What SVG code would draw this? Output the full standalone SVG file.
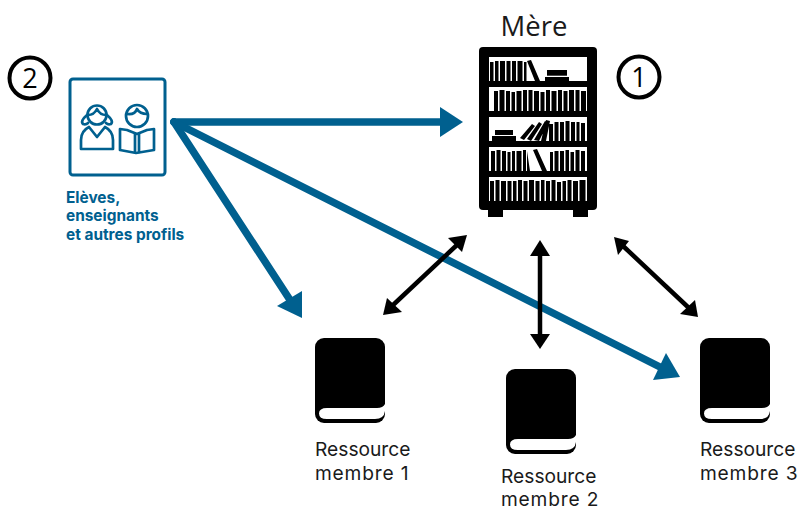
<svg xmlns="http://www.w3.org/2000/svg" width="801" height="511" viewBox="0 0 801 511">
<style>
.t{font-family:"Inter","Liberation Sans",sans-serif;font-size:19.2px;fill:#1a1a1a}
.m{letter-spacing:.8px}
.p{font-family:"Inter","Liberation Sans",sans-serif;font-weight:700;font-size:15.400px;fill:#00608f}
.num{font-family:"Open Sans","Liberation Sans",sans-serif;font-size:27px;fill:#000;text-anchor:middle}
.ring{fill:#fff;stroke:#000;stroke-width:4}
.ic{fill:none;stroke:#00608f;stroke-width:2.700;stroke-linejoin:round;stroke-linecap:round}
.bl{stroke:#00608f;stroke-width:7.500;fill:none;stroke-linecap:round}
.bk{stroke:#000;stroke-width:4.500;fill:none}
</style>
<defs>
<g id="book">
<rect width="70" height="85" rx="9" fill="#000"/>
<path d="M12 70H62Q68 70 70 66V73Q69 81 60 81H12Q4 81 4 75.500Q4 70 12 70Z" fill="#fff"/>
</g>
</defs>
<g id="connectors">
<line class="bl" x1="174" y1="122" x2="445" y2="122"/>
<path d="M463 122L440 107V137Z" fill="#00608f"/>
<line class="bl" x1="174" y1="122" x2="292" y2="303"/>
<path d="M302 318L277 306L302 291Z" fill="#00608f"/>
<line class="bl" x1="174" y1="122" x2="662" y2="368"/>
<path d="M680 377L653 380L666 353Z" fill="#00608f"/>
<line class="bk" x1="392" y1="306" x2="458" y2="244"/>
<path d="M467 235L448 238L462 252Z" fill="#000"/><path d="M383 315L402 312L387 298Z" fill="#000"/>
<line class="bk" x1="540" y1="250" x2="540" y2="338"/>
<path d="M540 240L530 256H550Z" fill="#000"/><path d="M540 349L530 334H550Z" fill="#000"/>
<line class="bk" x1="622" y1="245" x2="690" y2="309"/>
<path d="M614 237L629 241L618 255Z" fill="#000"/><path d="M698 317L695 300L680 314Z" fill="#000"/>
</g>
<g id="mere">
<text x="534" y="36" font-family="Open Sans, Liberation Sans, sans-serif" font-size="27.500" text-anchor="middle" fill="#1a1a1a">Mère</text>
<rect x="479" y="47" width="118" height="163" rx="4" fill="#000"/>
<rect x="488" y="205" width="15" height="12" fill="#000"/><rect x="573" y="205" width="15" height="12" fill="#000"/>
<g fill="#fff"><rect x="489" y="57" width="98" height="24"/><rect x="489" y="87" width="98" height="24"/><rect x="489" y="117" width="98" height="24"/><rect x="489" y="147" width="98" height="24"/><rect x="489" y="177" width="98" height="24"/></g>
<g fill="#000">
<path d="M490 62h3.500v19h-3.500zM495 61h3.500v20h-3.500zM500 61h5v20h-5zM506.500 61h4v20h-4zM512 61h4v20h-4zM517.500 61h5v20h-5zM524 62h2.500v19H524zM527 61l4-1 9 21h-5z"/>
<rect x="547" y="70" width="20" height="5.700"/><rect x="545" y="77" width="24" height="4"/>
<path d="M494 91h4v20h-4zM499.500 90h5v21h-5zM506 91h4v20h-4zM511.500 92h3.500v19h-3.500zM516.500 91h5v20h-5zM523 90h4v21h-4zM528.500 90h4v21h-4zM534 91h5v20h-5zM540.500 92h4v19h-4zM546 90h4v21h-4zM551.500 91h5v20h-5zM558 90h4v21h-4zM563.500 91h4v20h-4zM569 90h5v21h-5zM575.500 90h4v21h-4zM581 91h5v20h-5z"/>
<rect x="495" y="130" width="18" height="5"/><rect x="492" y="136" width="24" height="5"/>
<path d="M520 138l12-14 3 2-11 14zM527 139l12-17 3 2-11 17zM534 140l11-19 3 2-9 18zM541 141l5-21 4 1-4 20zM549 124h4v17h-4zM554.500 122h4v19h-4zM560 122h4v19h-4zM565.500 121h4v20h-4zM571 122h4v19h-4zM576.500 122h3v19h-3zM581 123h4v18h-4z"/>
<path d="M491 151h4v20h-4zM496.500 150h4v21h-4zM502 151h4v20h-4zM507.500 152h3v19h-3zM512 151h3v20h-3zM516.500 151h5v20h-5zM523 150h3v21h-3zM527 151l3 20h-3zM533 150l4-1 10 22h-5zM550 152h3v19h-3zM554.500 151h4v20h-4zM560 151h4v20h-4zM565.500 150h3.500v21h-3.500zM570.500 152h3.500v19h-3.500zM575.500 150h4v21h-4zM581 151h4v20h-4z"/>
<path d="M490 181h4v20h-4zM495.500 180h4v21h-4zM501 181h5v20h-5zM507.500 181h4v20h-4zM513 181h3.500v20H513zM518 180h4v21h-4zM523.500 181h4v20h-4zM529 180h5v21h-5zM535.500 181h4v20h-4zM541 180h3.500v21H541zM546 181h4v20h-4zM551.500 180h4v21h-4zM557 182h4v19h-4zM562.500 181h3.500v20h-3.500zM567.500 180h4v21h-4zM573 181h5v20h-5zM579.500 180h6v21h-6z"/>
</g>
</g>
<g id="badge1"><circle class="ring" cx="639" cy="77" r="20.500"/><text class="num" x="639" y="87">1</text></g>
<g id="badge2"><circle class="ring" cx="30" cy="78" r="20.500"/><text class="num" x="30" y="88">2</text></g>
<g id="profils">
<rect x="70" y="79" width="95" height="96" rx="3" fill="#fff" stroke="#00608f" stroke-width="3"/>
<g class="ic">
<circle cx="97" cy="115" r="9.500"/>
<path d="M88 115Q94 115 97 109Q100 115 106 115"/>
<path d="M87 115Q80 121 83 124Q86 125 88 123M107 115Q114 121 111 124Q108 125 106 123"/>
<path d="M89 127Q81 131 81 140V149H113V140Q113 131 105 127L97 137Z"/>
<circle cx="137" cy="116" r="11"/>
<path d="M127 114Q135 115 137 109Q140 114 147 114"/>
<path d="M127 130L120 129V150L136 153L154 150V129L147 130L137 134Z"/>
<path d="M135 134V152M139 134V152"/>
</g>
<text class="p" x="66" y="203">Elèves,</text>
<text class="p" x="66" y="221">enseignants</text>
<text class="p" x="66" y="240">et autres profils</text>
</g>
<g id="membre1"><use href="#book" x="315" y="338"/><text class="t" x="315" y="456">Ressource</text><text class="t m" x="315" y="480">membre 1</text></g>
<g id="membre2"><use href="#book" x="506" y="369"/><text class="t" x="501" y="483">Ressource</text><text class="t m" x="501" y="506">membre 2</text></g>
<g id="membre3"><use href="#book" x="700" y="338"/><text class="t" x="700" y="456">Ressource</text><text class="t m" x="700" y="480">membre 3</text></g>
</svg>
